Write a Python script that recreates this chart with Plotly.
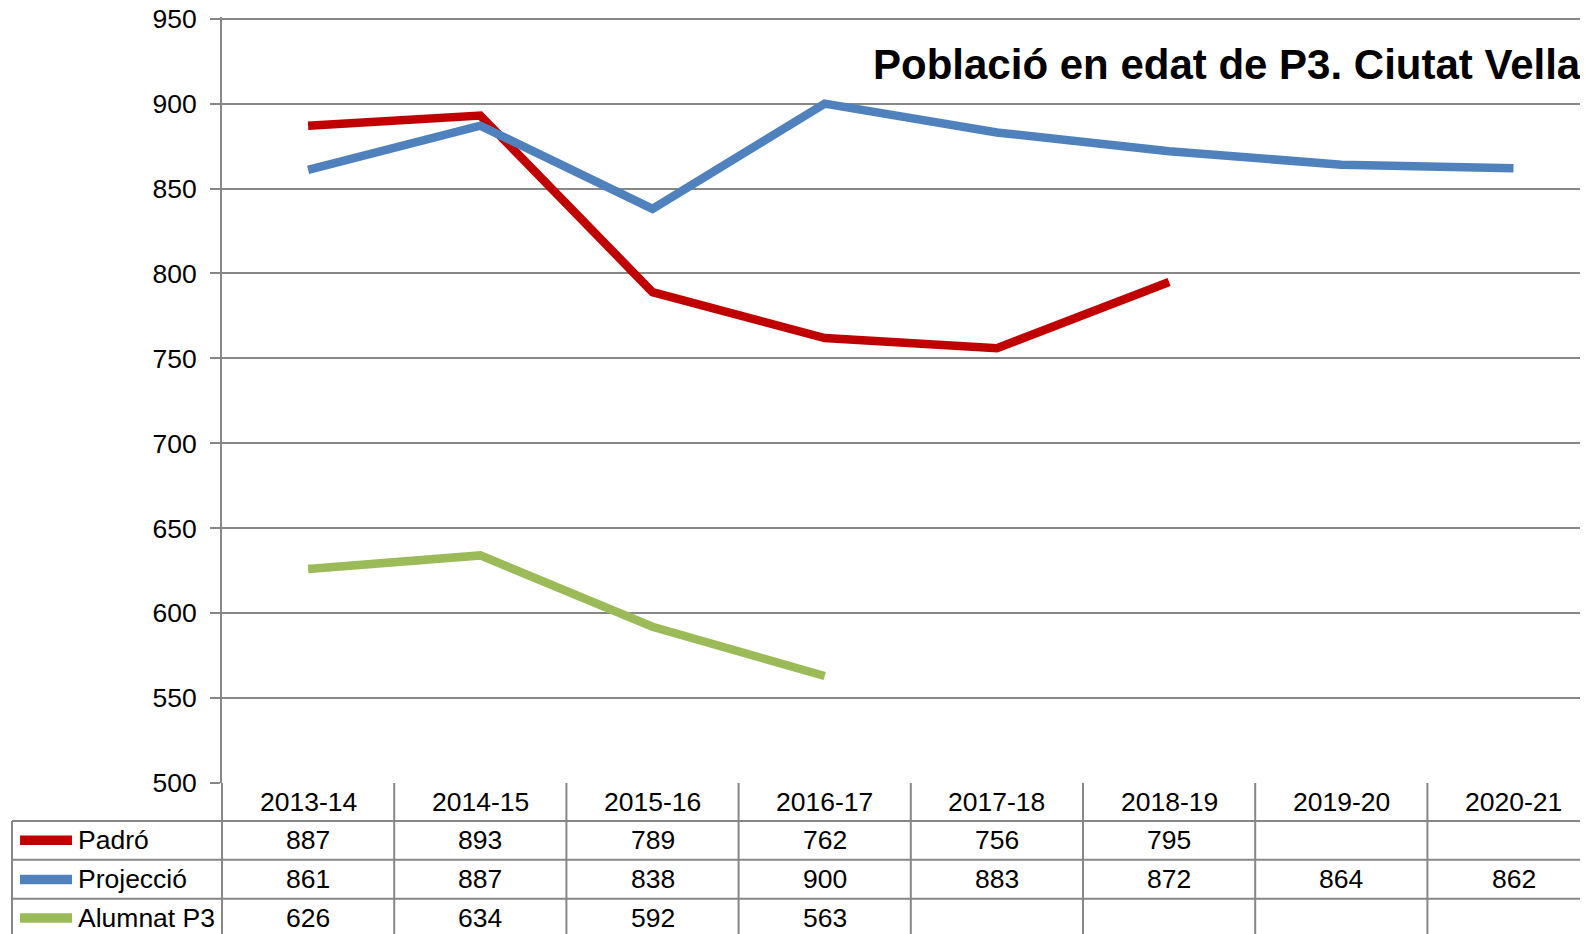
import plotly.graph_objects as go

categories = ["2013-14", "2014-15", "2015-16", "2016-17", "2017-18", "2018-19", "2019-20", "2020-21"]
padro = [887, 893, 789, 762, 756, 795, None, None]
projeccio = [861, 887, 838, 900, 883, 872, 864, 862]
alumnat = [626, 634, 592, 563, None, None, None, None]
series_names = ["Padró", "Projecció", "Alumnat P3"]
series_colors = ["#C00000", "#4F81BD", "#9BBB59"]
y_ticks = [500, 550, 600, 650, 700, 750, 800, 850, 900, 950]
title_text = "Població en edat de P3. Ciutat Vella"

OFF = 8  # page body margin
W, H = 1588 - OFF, 934 - OFF
Y_MIN, Y_MAX, Y_TOP = 500, 950, 951
PPU = (782.7 - 19) / (Y_MAX - Y_MIN)  # pixels per unit
B = 782.7 - OFF
T = B - (Y_TOP - Y_MIN) * PPU
L = 222 - OFF
PH = B - T
PW = W - L
FONT = "Liberation Sans, Arial, sans-serif"
FS = 26.5
GRID = "#878787"

def py(p):
    return (B - (p - OFF)) / PH

def px(p):
    return ((p - OFF) - L) / PW

n = len(categories)
cat_w = 172.2
x_right = -0.5 + PW / cat_w

fig = go.Figure()
series = [padro, projeccio, alumnat]
for name, vals, col in zip(series_names, series, series_colors):
    fig.add_trace(go.Scatter(
        x=list(range(n)), y=vals, mode="lines", name=name,
        line=dict(color=col, width=8.5), connectgaps=False,
        hoverinfo="skip"))

shapes = []
annotations = []

row_lines = [820.7, 859.3, 898.3]
for ry in row_lines:
    shapes.append(dict(type="line", xref="paper", yref="paper",
                       x0=px(12), x1=1.0, y0=py(ry), y1=py(ry),
                       line=dict(color=GRID, width=2)))
shapes.append(dict(type="line", xref="paper", yref="paper",
                   x0=px(12), x1=px(12), y0=py(820.7), y1=py(945),
                   line=dict(color=GRID, width=2)))
shapes.append(dict(type="line", xref="paper", yref="paper",
                   x0=0, x1=0, y0=0, y1=py(945),
                   line=dict(color=GRID, width=2)))
for i in range(n - 1):
    shapes.append(dict(type="line", xref="x", yref="paper",
                       x0=i + 0.5, x1=i + 0.5, y0=0, y1=py(945),
                       line=dict(color=GRID, width=2)))

for i, c in enumerate(categories):
    annotations.append(dict(x=i, y=py(801.5), xref="x", yref="paper",
                            text=c, showarrow=False, xanchor="center", yanchor="middle",
                            font=dict(family=FONT, size=FS, color="black")))

row_centers = [840, 879, 917.5]
for name, vals, col, ry in zip(series_names, series, series_colors, row_centers):
    shapes.append(dict(type="line", xref="paper", yref="paper",
                       x0=px(20), x1=px(72), y0=py(ry), y1=py(ry),
                       line=dict(color=col, width=9.5)))
    annotations.append(dict(x=px(76), y=py(ry), xref="paper", yref="paper",
                            text=name, showarrow=False, xanchor="left", yanchor="middle",
                            font=dict(family=FONT, size=FS, color="black")))
    for i, v in enumerate(vals):
        if v is None:
            continue
        annotations.append(dict(x=i, y=py(ry), xref="x", yref="paper",
                                text=str(v), showarrow=False, xanchor="center", yanchor="middle",
                                font=dict(family=FONT, size=FS, color="black")))

annotations.append(dict(x=px(1583), y=py(65), xref="paper", yref="paper",
                        text="<b>" + title_text + "</b>", showarrow=False,
                        xanchor="right", yanchor="middle",
                        font=dict(family=FONT, size=42, color="black")))

fig.update_layout(
    width=W, height=H,
    margin=dict(l=L, r=0, t=T, b=H - B, pad=0, autoexpand=False),
    paper_bgcolor="white", plot_bgcolor="white",
    showlegend=False,
    shapes=shapes, annotations=annotations,
    xaxis=dict(range=[-0.5, x_right], showticklabels=False, showgrid=False,
               zeroline=False, showline=False, ticks="", automargin=False),
    yaxis=dict(range=[Y_MIN, Y_TOP], tickvals=y_ticks, showgrid=True, gridcolor=GRID, gridwidth=2,
               showline=True, linecolor=GRID, linewidth=2, ticks="outside", ticklen=10,
               tickcolor=GRID, tickwidth=2, zeroline=False, ticklabelstandoff=8,
               ticklabeloverflow="allow", automargin=False,
               tickfont=dict(family=FONT, size=FS, color="black")),
)

fig.write_html("out.html")
